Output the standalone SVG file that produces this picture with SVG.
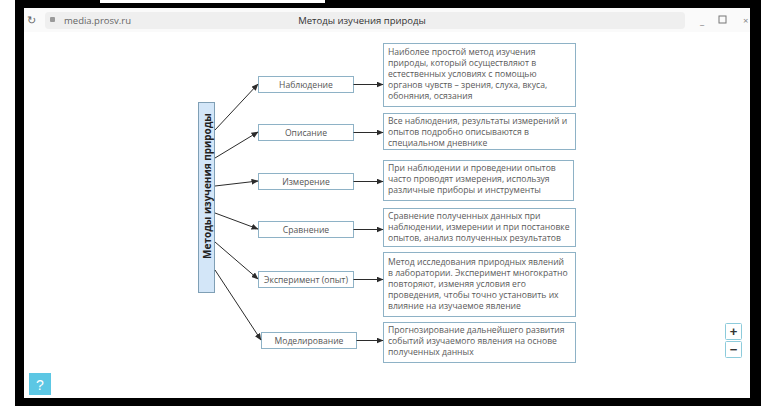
<svg xmlns="http://www.w3.org/2000/svg" width="761" height="406" viewBox="0 0 761 406">
<defs>
<marker id="ah" markerWidth="7" markerHeight="6" refX="6.5" refY="3" orient="auto" markerUnits="userSpaceOnUse">
<path d="M0,0 L7,3 L0,6 Z" fill="#2b2b2b"/>
</marker>
<style>
.frame{fill:#000}
.chrome{font-family:"Open Sans","Liberation Sans",sans-serif;font-size:9.5px;fill:#444}
.main{fill:#d3e6f8;stroke:#7f9fb5;stroke-width:1}
.mbox{fill:#fff;stroke:#8eb2c6;stroke-width:1}
.dbox{fill:#fff;stroke:#8eb2c6;stroke-width:1}
.mlabel{font-family:"Open Sans","Liberation Sans",sans-serif;font-size:8.6px;fill:#555;text-anchor:middle}
.dtext{font-family:"Open Sans","Liberation Sans",sans-serif;font-size:8.6px;fill:#5a5a5a}
.conn{stroke:#2b2b2b;stroke-width:1;fill:none;marker-end:url(#ah)}
</style>
</defs>
<rect x="0" y="0" width="761" height="406" fill="#fff"/>
<rect class="frame" x="15" y="0" width="746" height="8"/>
<rect x="100" y="0" width="225" height="3" fill="#fff"/>
<rect class="frame" x="15" y="0" width="9" height="406"/>
<rect class="frame" x="750" y="0" width="11" height="406"/>
<rect class="frame" x="15" y="398" width="746" height="8"/>
<g id="browserbar">
<rect x="24" y="8" width="726" height="24" fill="#fafafa"/>
<rect x="45" y="12" width="640" height="17" rx="4" fill="#efefef"/>
<text class="chrome" x="27" y="24" style="font-size:11px;fill:#666">↻</text>
<rect x="50" y="17" width="5" height="5" rx="1" fill="#9a9a9a"/>
<text class="chrome" x="64" y="24" style="fill:#666">media.prosv.ru</text>
<text class="chrome" x="362" y="24" style="text-anchor:middle;fill:#333">Методы изучения природы</text>
<text class="chrome" x="700" y="24" style="fill:#777">_</text>
<rect x="719" y="16" width="7" height="7" fill="none" stroke="#777" stroke-width="1"/>
<text class="chrome" x="743" y="24" style="fill:#888">×</text>
</g>
<g id="main">
<rect class="main" x="198.5" y="102.5" width="16" height="190"/>
<text x="210.5" y="186" transform="rotate(-90 210.5 186)" style="font-family:'Open Sans','Liberation Sans',sans-serif;font-size:10px;font-weight:bold;fill:#222;text-anchor:middle">Методы изучения природы</text>
</g>
<g id="m1"><rect class="mbox" x="258.5" y="76.5" width="95" height="16"/><text class="mlabel" x="306" y="87.5">Наблюдение</text></g>
<g id="m2"><rect class="mbox" x="258.5" y="124.5" width="95" height="16"/><text class="mlabel" x="306" y="135.5">Описание</text></g>
<g id="m3"><rect class="mbox" x="258.5" y="173.5" width="95" height="16"/><text class="mlabel" x="306" y="184.5">Измерение</text></g>
<g id="m4"><rect class="mbox" x="258.5" y="221.5" width="95" height="16"/><text class="mlabel" x="306" y="232.5">Сравнение</text></g>
<g id="m5"><rect class="mbox" x="258.5" y="271.5" width="95" height="16"/><text class="mlabel" x="306" y="282.5">Эксперимент (опыт)</text></g>
<g id="m6"><rect class="mbox" x="261.5" y="332.5" width="95" height="16"/><text class="mlabel" x="309" y="343.5">Моделирование</text></g>
<g id="d1"><rect class="dbox" x="383.5" y="43.5" width="192" height="63"/>
<text class="dtext"><tspan x="388" y="55">Наиболее простой метод изучения</tspan><tspan x="388" y="66">природы, который осуществляют в</tspan><tspan x="388" y="77">естественных условиях с помощью</tspan><tspan x="388" y="88">органов чувств – зрения, слуха, вкуса,</tspan><tspan x="388" y="99">обоняния, осязания</tspan></text></g>
<g id="d2"><rect class="dbox" x="383.5" y="113.5" width="192" height="36"/>
<text class="dtext"><tspan x="388" y="124">Все наблюдения, результаты измерений и</tspan><tspan x="388" y="135">опытов подробно описываются в</tspan><tspan x="388" y="146">специальном дневнике</tspan></text></g>
<g id="d3"><rect class="dbox" x="383.5" y="160.5" width="190" height="40"/>
<text class="dtext"><tspan x="388" y="171">При наблюдении и проведении опытов</tspan><tspan x="388" y="182">часто проводят измерения, используя</tspan><tspan x="388" y="193">различные приборы и инструменты</tspan></text></g>
<g id="d4"><rect class="dbox" x="383.5" y="208.5" width="192" height="38"/>
<text class="dtext"><tspan x="388" y="219">Сравнение полученных данных при</tspan><tspan x="388" y="230">наблюдении, измерении и при постановке</tspan><tspan x="388" y="241">опытов, анализ полученных результатов</tspan></text></g>
<g id="d5"><rect class="dbox" x="383.5" y="252.5" width="192" height="64"/>
<text class="dtext"><tspan x="388" y="265">Метод исследования природных явлений</tspan><tspan x="388" y="276">в лаборатории. Эксперимент многократно</tspan><tspan x="388" y="287">повторяют, изменяя условия его</tspan><tspan x="388" y="298">проведения, чтобы точно установить их</tspan><tspan x="388" y="309">влияние на изучаемое явление</tspan></text></g>
<g id="d6"><rect class="dbox" x="383.5" y="322.5" width="192" height="40"/>
<text class="dtext"><tspan x="388" y="333">Прогнозирование дальнейшего развития</tspan><tspan x="388" y="344">событий изучаемого явления на основе</tspan><tspan x="388" y="355">полученных данных</tspan></text></g>
<g id="connectors">
<line class="conn" x1="215" y1="130" x2="258" y2="84"/>
<line class="conn" x1="215" y1="158" x2="258" y2="132"/>
<line class="conn" x1="215" y1="186" x2="258" y2="181"/>
<line class="conn" x1="215" y1="213" x2="258" y2="229"/>
<line class="conn" x1="215" y1="242" x2="258" y2="279"/>
<line class="conn" x1="215" y1="270" x2="261" y2="340"/>
<line class="conn" x1="353.5" y1="84.5" x2="383" y2="84.5"/>
<line class="conn" x1="353.5" y1="132.5" x2="383" y2="132.5"/>
<line class="conn" x1="353.5" y1="181.5" x2="383" y2="181.5"/>
<line class="conn" x1="353.5" y1="229.5" x2="383" y2="229.5"/>
<line class="conn" x1="353.5" y1="279.5" x2="383" y2="279.5"/>
<line class="conn" x1="356.5" y1="340.5" x2="383" y2="340.5"/>
</g>
<g id="zoomplus"><rect x="725.5" y="323.5" width="16" height="16" rx="1" fill="#fff" stroke="#8ccbdb"/><text x="733.5" y="336" style="font-family:'Liberation Sans',sans-serif;font-size:13px;font-weight:bold;fill:#333;text-anchor:middle">+</text></g>
<g id="zoomminus"><rect x="725.5" y="341.5" width="16" height="16" rx="1" fill="#fff" stroke="#8ccbdb"/><text x="733.5" y="354" style="font-family:'Liberation Sans',sans-serif;font-size:13px;font-weight:bold;fill:#333;text-anchor:middle">−</text></g>
<g id="help"><rect x="29" y="373" width="22" height="22" fill="#5cc7e4"/><text x="40" y="390" style="font-family:'Liberation Sans',sans-serif;font-size:14px;fill:#fff;text-anchor:middle">?</text></g>
</svg>
